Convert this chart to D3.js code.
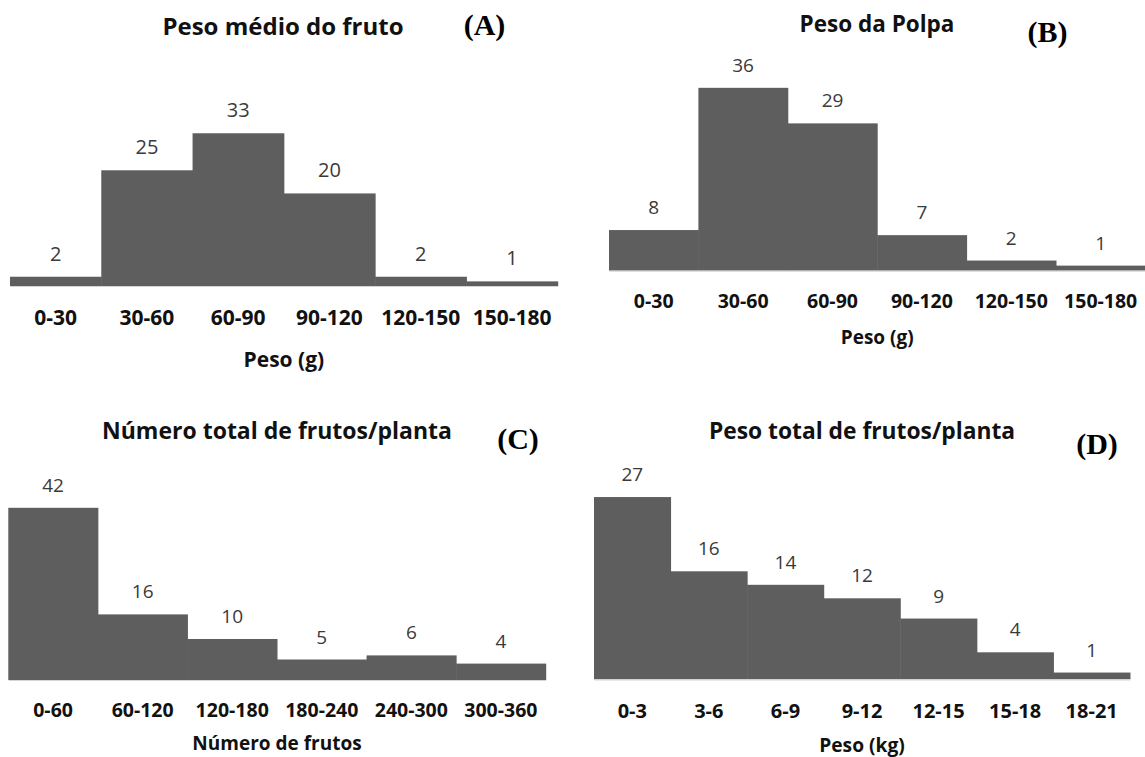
<!DOCTYPE html>
<html>
<head>
<meta charset="utf-8">
<script src="https://cdn.jsdelivr.net/npm/d3@7"></script>
<style>
  html, body { margin: 0; padding: 0; background: #ffffff; }
  svg { display: block; }
  .val { font-family: "Open Sans", sans-serif; fill: #3a3a3a; }
  .cat, .ttl, .axt { font-family: "Open Sans", sans-serif; font-weight: 700; fill: #111111; }
  .tag { font-family: "Liberation Serif", "Times New Roman", serif; font-weight: 700; fill: #000000; }
</style>
</head>
<body>
<script>
// Frequency classes and counts for each histogram
const catsA = ["0-30", "30-60", "60-90", "90-120", "120-150", "150-180"];
const valsA = [2, 25, 33, 20, 2, 1];

const catsB = ["0-30", "30-60", "60-90", "90-120", "120-150", "150-180"];
const valsB = [8, 36, 29, 7, 2, 1];

const catsC = ["0-60", "60-120", "120-180", "180-240", "240-300", "300-360"];
const valsC = [42, 16, 10, 5, 6, 4];

const catsD = ["0-3", "3-6", "6-9", "9-12", "12-15", "15-18", "18-21"];
const valsD = [27, 16, 14, 12, 9, 4, 1];

const titles = ["Peso médio do fruto", "Peso da Polpa", "Número total de frutos/planta", "Peso total de frutos/planta"];
const tags = ["(A)", "(B)", "(C)", "(D)"];
const axisTitles = ["Peso (g)", "Peso (g)", "Número de frutos", "Peso (kg)"];

// Panel layout: plot box, axis maximum and text placement
const panels = [
  { cats: catsA, vals: valsA, title: titles[0], tag: tags[0], axis: axisTitles[0],
    left: 10, right: 557.7, base: 286, top: 124, yMax: 35,
    titleX: 283, titleY: 35, titleSize: 24, tagX: 484.5, tagY: 35,
    valSize: 20, catSize: 21, catY: 325, axisY: 366.5, axisSize: 21 },
  { cats: catsB, vals: valsB, title: titles[1], tag: tags[1], axis: axisTitles[1],
    left: 609, right: 1145.4, base: 270.7, top: 67.5, yMax: 40,
    titleX: 877, titleY: 31.5, titleSize: 22.5, tagX: 1047.5, tagY: 41.5,
    valSize: 19, catSize: 19.5, catY: 308.3, axisY: 344, axisSize: 19 },
  { cats: catsC, vals: valsC, title: titles[2], tag: tags[2], axis: axisTitles[2],
    left: 8.3, right: 545.7, base: 680, top: 495.5, yMax: 45,
    titleX: 277, titleY: 439, titleSize: 23, tagX: 518, tagY: 449,
    valSize: 19, catSize: 19.5, catY: 716.7, axisY: 750, axisSize: 19 },
  { cats: catsD, vals: valsD, title: titles[3], tag: tags[3], axis: axisTitles[3],
    left: 594, right: 1130, base: 679.3, top: 476.8, yMax: 30,
    titleX: 862, titleY: 439, titleSize: 22.8, tagX: 1097, tagY: 454,
    valSize: 19, catSize: 20, catY: 717.7, axisY: 752, axisSize: 19.2 }
];

const W = 1145, H = 757;
const svg = d3.select("body").append("svg").attr("width", W).attr("height", H);

panels.forEach(p => {
  const data = p.cats.map((c, i) => ({ cat: c, val: p.vals[i] }));
  const x = d3.scaleBand().domain(p.cats).range([p.left, p.right]).padding(0);
  const y = d3.scaleLinear().domain([0, p.yMax]).range([p.base, p.top]);
  const g = svg.append("g");

  // contiguous histogram bars
  g.selectAll("rect.bar").data(data).enter().append("rect")
    .attr("class", "bar")
    .attr("x", d => x(d.cat))
    .attr("width", x.bandwidth() + 0.5)
    .attr("y", d => y(d.val))
    .attr("height", d => y(0) - y(d.val))
    .attr("fill", "#5e5e5e");

  // horizontal axis line
  const xAxis = d3.axisBottom(x).tickSize(0).tickFormat("");
  const ax = g.append("g").attr("transform", `translate(0,${y(0)})`).call(xAxis);
  ax.select(".domain").attr("stroke", "#d4d4d4").attr("stroke-width", 1.2);

  // value labels above each bar
  g.selectAll("text.val").data(data).enter().append("text")
    .attr("class", "val")
    .attr("x", d => x(d.cat) + x.bandwidth() / 2)
    .attr("y", d => y(d.val) - 16)
    .attr("text-anchor", "middle")
    .style("font-size", p.valSize + "px")
    .text(d => d.val);

  // class labels
  g.selectAll("text.cat").data(data).enter().append("text")
    .attr("class", "cat")
    .attr("x", d => x(d.cat) + x.bandwidth() / 2)
    .attr("y", p.catY)
    .attr("text-anchor", "middle")
    .style("font-size", p.catSize + "px")
    .text(d => d.cat);

  // axis title
  g.append("text").attr("class", "axt")
    .attr("x", (p.left + p.right) / 2).attr("y", p.axisY)
    .attr("text-anchor", "middle")
    .style("font-size", p.axisSize + "px")
    .text(p.axis);

  // chart title and panel letter
  g.append("text").attr("class", "ttl")
    .attr("x", p.titleX).attr("y", p.titleY)
    .attr("text-anchor", "middle")
    .style("font-size", p.titleSize + "px")
    .text(p.title);

  g.append("text").attr("class", "tag")
    .attr("x", p.tagX).attr("y", p.tagY)
    .attr("text-anchor", "middle")
    .style("font-size", "30px")
    .text(p.tag);
});
</script>
</body>
</html>
